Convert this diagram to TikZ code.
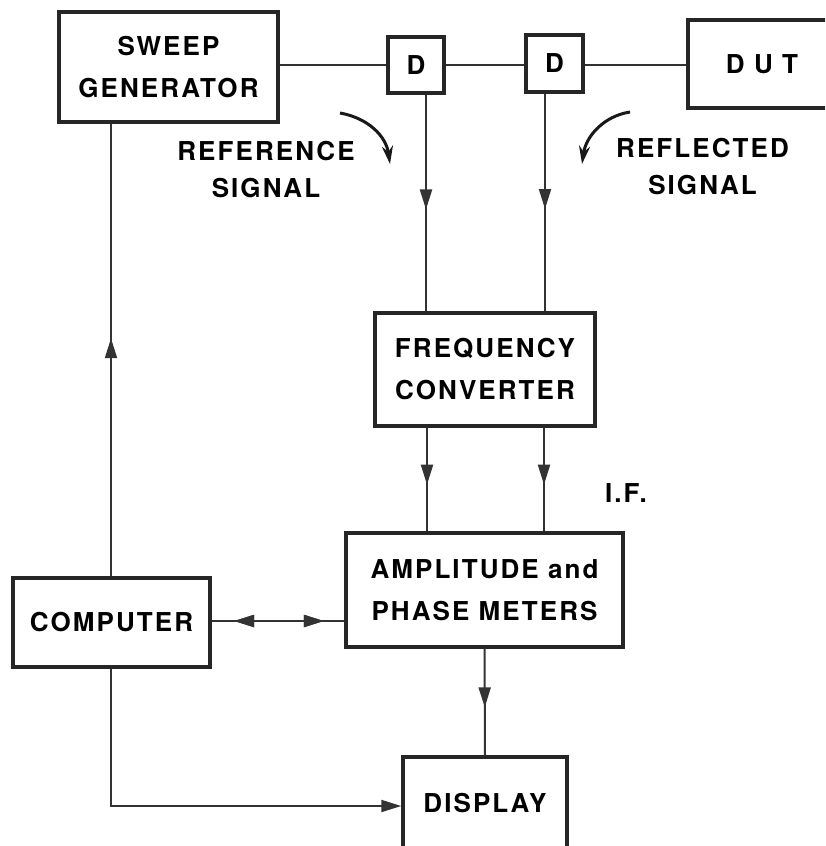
\documentclass[tikz,border=0pt]{standalone}
\usepackage{fontspec}
\setmainfont{TeX Gyre Heros}[LetterSpace=8]
\usepackage{tikz}
\usetikzlibrary{positioning,arrows.meta,calc,decorations.markings}

\begin{document}
\begin{tikzpicture}[
    x=1pt, y=-1pt,
    font=\fontsize{26}{42}\selectfont\bfseries,
    block/.style={draw=black!85, line width=3.5pt, align=center, inner sep=0pt},
    lbl/.style={align=center, font=\fontsize{26}{37}\selectfont\bfseries},
    flow/.style={draw=black!80, line width=2pt},
    tip/.style={-{Triangle[length=20pt, width=12pt]}, draw=black!80, line width=2pt},
    midarrow/.style={postaction={decorate}, decoration={markings,
        mark=at position #1 with {\arrow{Triangle[length=20pt, width=12pt]}}}},
    backarrow/.style={postaction={decorate}, decoration={markings,
        mark=at position #1 with {\arrowreversed{Triangle[length=20pt, width=12pt]}}}},
    curly/.style={-{Stealth[length=18pt, width=11pt]}, line width=3pt, black!90}
]
\useasboundingbox (0,0) rectangle (825,846);
\clip (0,0) rectangle (825,846);

% ===== Top row =====
\node[block, minimum width=219pt, minimum height=110pt] (sweep) at (168.5,67) {SWEEP\\GENERATOR};
\node[block, minimum width=56pt, minimum height=56pt] (d1) at (416,65) {D};
\node[block, minimum width=57pt, minimum height=57pt] (d2) at (554.5,63.5) {D};
\node[block, minimum width=148pt, minimum height=88pt] (dut) at (762,64) {D U T};

% ===== Middle =====
\node[block, minimum width=220pt, minimum height=113pt] (freq) at (485,369.5) {FREQUENCY\\CONVERTER};
\node[block, minimum width=277pt, minimum height=114pt] (amp) at (484.5,590) {AMPLITUDE and\\PHASE METERS};
\node[block, minimum width=197pt, minimum height=89pt] (comp) at (111.5,622.5) {COMPUTER};
\node[block, minimum width=164pt, minimum height=92pt] (disp) at (485,803) {DISPLAY};

% ===== Labels =====
\node[lbl] (reflbl) at (266,170) {REFERENCE\\SIGNAL};
\node[lbl] (refllbl) at (702.5,166.5) {REFLECTED\\SIGNAL};
\node[lbl] (iflbl) at (626,493) {I.F.};

% ===== Transmission line =====
\draw[flow] (sweep.east |- 0,65) -- (d1.west |- 0,65);
\draw[flow] (d1.east |- 0,65) -- (d2.west |- 0,65);
\draw[flow] (d2.east |- 0,65) -- (dut.west |- 0,65);

% ===== Couplers to converter =====
\draw[flow, midarrow=0.53] ([xshift=10pt]d1.south) -- ([xshift=10pt]d1.south |- freq.north);
\draw[flow, midarrow=0.53] ([xshift=-9.5pt]d2.south) -- ([xshift=-9.5pt]d2.south |- freq.north);

% ===== I.F. =====
\draw[flow, midarrow=0.55] (427,0 |- freq.south) -- (427,0 |- amp.north);
\draw[flow, midarrow=0.55] (544,0 |- freq.south) -- (544,0 |- amp.north);

% ===== Computer links =====
\draw[flow, midarrow=0.526] (111,0 |- comp.north) -- (111,0 |- sweep.south);
\draw[flow, midarrow=0.846, backarrow=0.169] (comp.east |- 0,621) -- (amp.west |- 0,621);
\draw[flow, midarrow=0.55] (amp.south) -- (disp.north);
\coordinate (bend) at (111,806);
\draw[tip] (111,0 |- comp.south) -- (bend) -- (disp.west |- bend);

% ===== Signal direction arrows =====
\coordinate (refa) at (340,113);
\coordinate (refb) at (390,164);
\draw[curly] (refa) .. controls (368,118) and (386,136) .. (refb);
\coordinate (rfla) at (630,112);
\coordinate (rflb) at (582,164);
\draw[curly] (rfla) .. controls (604,116) and (586,136) .. (rflb);

\end{tikzpicture}
\end{document}
